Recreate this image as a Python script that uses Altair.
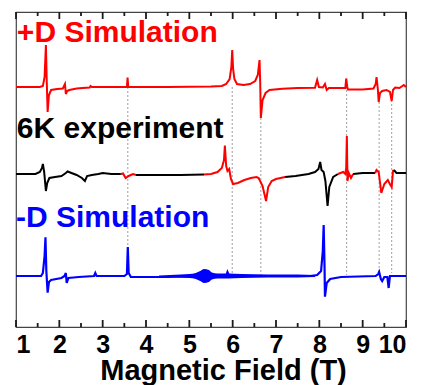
import altair as alt
import pandas as pd

# ---- data (x in Tesla, signal in arbitrary units) ----
red_field = [1.0, 1.55, 1.62, 1.66, 1.69, 1.71, 1.73, 1.76, 1.81, 1.95, 2.08, 2.13, 2.15, 2.18, 2.23,
             2.40, 2.54, 2.70, 2.72, 2.75, 3.0, 3.56, 3.575, 3.59, 3.62, 4.5, 5.5, 5.75, 5.85, 5.93,
             5.97, 5.99, 6.01, 6.04, 6.10, 6.25, 6.40, 6.52, 6.58, 6.62, 6.635, 6.65, 6.69, 6.76,
             6.85, 7.15, 7.5, 7.9, 7.95, 7.99, 8.08, 8.13, 8.17, 8.22, 8.5, 8.60, 8.62, 8.645, 8.66,
             9.0, 9.25, 9.30, 9.32, 9.35, 9.37, 9.40, 9.45, 9.55, 9.63, 9.67, 9.70, 9.75, 9.85, 9.95, 10.0]
red_signal = [0, 0, 1, 10, 42, 5, -25, -8, -3, -2, -1.5, 3, -7, -4, -3,
              -1.5, -1, -0.5, 1, 0, 0, 0, 9.5, 0, 0, 0, 0.5, 1, 3, 8,
              20, 37, 18, 8, 3, 2, 3, 6, 12, 27, 5, -31, -13, -6,
              -3, -1.7, -1, -0.7, 7, 0, -0.5, 3, -3, -1, -1, -1, 8.5, 0, -2.5,
              -2.5, -1.5, 3, 10, -2, -15, -6, -4, -3, -5, -14, -3, -0.5, -1, 2, 0]

exp_field = [1.0, 1.45, 1.55, 1.60, 1.62, 1.65, 1.69, 1.72, 1.77, 1.90, 2.05, 2.15, 2.19, 2.28, 2.40,
             2.52, 2.59, 2.64, 2.75, 2.90, 3.00, 3.20, 3.42, 3.47, 3.53, 3.60, 3.70, 3.77, 4.2, 4.8,
             5.34, 5.50, 5.65, 5.75, 5.80, 5.82, 5.85, 5.88, 5.92, 5.96, 6.01, 6.12, 6.27, 6.42,
             6.55, 6.60, 6.69, 6.77, 6.82, 6.90, 7.00, 7.21, 7.45, 7.75, 7.90, 7.98, 8.02, 8.05,
             8.10, 8.14, 8.19, 8.23, 8.32, 8.43, 8.55, 8.60, 8.62, 8.635, 8.65, 8.68, 8.73, 8.78,
             9.0, 9.25, 9.29, 9.32, 9.37, 9.43, 9.50, 9.58, 9.64, 9.67, 9.70, 9.72, 9.78, 10.0]
exp_signal = [0, 0, 2, 6, 10, 2, -17, -9, -4, -3, -2, 1, 2.5, 1, -1,
              -4, -7, -2, -1, 0, 1, 0, 0, 0.5, -4, -2, 0, -1, -1, -1,
              -0.5, 0, 2, 6, 14, 28.5, 8, 3, 5, -5, -10, -9, -6, -4,
              -3, -4, -12, -27, -13, -7, -5, -3, -2, 0, 2, 5, 12, 4,
              2, -7, -32, -13, -3, 0, 2, 0, 6, 38, -7, 1, -4, 0,
              1, 1, 1, 4, 2, -19, -10, -6, -11, -13, 3, 4, 1, 1]
# field ranges where the experiment trace is drawn in red (start exclusive, end inclusive)
exp_red_start = [3.42, 5.34, 8.43, 9.29]
exp_red_end = [3.77, 7.21, 8.78, 9.72]

blue_field = [1.0, 1.58, 1.62, 1.66, 1.68, 1.70, 1.73, 1.76, 1.81, 2.05, 2.12, 2.15, 2.17, 2.21, 2.45,
              2.80, 2.83, 2.86, 3.50, 3.56, 3.58, 3.60, 3.65, 4.5, 5.0, 5.85, 5.88, 5.92, 7.8, 7.95,
              8.04, 8.08, 8.10, 8.12, 8.13, 8.17, 8.25, 8.5, 9.30, 9.36, 9.38, 9.42, 9.45, 9.50,
              9.57, 9.60, 9.63, 10.0]
blue_signal = [0, 0, 3, 20, 38.7, 5, -16.7, -6, -4, -2, 0, 3, -7, -2, -1,
               0, 3, 0, 0, 2, 29, 3, -1, -1, -0.5, 0, 4, 0, 0, 1,
               5, 25, 51, 10, -20.7, -7, -3, -1, 0, 2, 4, -3, -5, -1,
               -1, -12, 0, 0]

# noise envelope of the -D simulation around 5.3 T (half width)
blob_field = [4.3, 4.8, 5.0, 5.15, 5.25, 5.34, 5.45, 5.52, 5.65, 5.9, 6.2, 6.8, 7.5, 7.9]
blob_half = [0.5, 1.5, 2, 3, 5, 7, 6, 3.5, 2.5, 2.5, 2, 1.5, 1.5, 1]

# trace offsets (vertical stacking)
offset_plus, offset_exp, offset_minus = 240, 153, 51

# dashed guide lines
guide_field = [3.58, 5.99, 6.65, 8.63, 9.38, 9.67]
guide_top = [240, 240, 209, 237, 225, 227]
guide_bottom = [80, 52, 52, 52, 54, 54]

label_text = ["+D Simulation", "6K experiment", "-D Simulation"]
label_field = [1.02, 1.02, 1.0]
label_y = [285, 189, 100]
label_color = ["#ff0000", "#000000", "#0000ff"]

major_ticks = list(range(1, 11))
minor_ticks = [1.5, 2.5, 3.5, 4.5, 5.5, 6.5, 7.5, 8.5, 9.5]

FONT = "Liberation Sans"
W, H = 390, 315
Y_MAX = 315
MAJOR_LEN, MINOR_LEN = 7, 4
tick_color = "#1a1a1a"

# ---- tables ----
red_df = pd.DataFrame({"x": red_field, "y": [offset_plus + v for v in red_signal]})
blue_df = pd.DataFrame({"x": blue_field, "y": [offset_minus + v for v in blue_signal]})
blob_df = pd.DataFrame({"x": blob_field,
                        "lo": [offset_minus - h for h in blob_half],
                        "hi": [offset_minus + h for h in blob_half]})


def is_red(x):
    return any(lo < x <= hi for lo, hi in zip(exp_red_start, exp_red_end))


rows = []
seg = 0
prev = None
for x, v in zip(exp_field, exp_signal):
    c = "red" if is_red(x) else "black"
    if prev is not None and c != prev[2]:
        seg += 1
        rows.append({"x": prev[0], "y": prev[1], "c": c, "seg": seg})
    rows.append({"x": x, "y": offset_exp + v, "c": c, "seg": seg})
    prev = (x, offset_exp + v, c)
exp_df = pd.DataFrame(rows)

guide_df = pd.DataFrame({"x": guide_field, "top": guide_top, "bottom": guide_bottom})
label_df = pd.DataFrame({"t": label_text, "x": label_field, "y": label_y, "c": label_color})

tick_rows = []
for t in major_ticks:
    tick_rows.append({"x": float(t), "a": 0.0, "b": float(MAJOR_LEN)})
    tick_rows.append({"x": float(t), "a": float(Y_MAX - MAJOR_LEN), "b": float(Y_MAX)})
for t in minor_ticks:
    tick_rows.append({"x": float(t), "a": 0.0, "b": float(MINOR_LEN)})
    tick_rows.append({"x": float(t), "a": float(Y_MAX - MINOR_LEN), "b": float(Y_MAX)})
tick_df = pd.DataFrame(tick_rows)

xscale = alt.Scale(domain=[1, 10], nice=False, zero=False)
yscale = alt.Scale(domain=[0, Y_MAX], nice=False, zero=False)
noy = alt.Y("y:Q", scale=yscale, axis=None)

axis_labels = alt.Axis(values=major_ticks, ticks=False, domain=False, grid=False,
                       labelFont=FONT, labelFontSize=25, labelFontWeight="bold", labelColor="#000",
                       labelPadding=5, format="d",
                       title="Magnetic Field (T)", titleFont=FONT, titleFontSize=29,
                       titleFontWeight="bold", titleColor="#000", titlePadding=-1, titleX=207)
X = alt.X("x:Q", scale=xscale, axis=axis_labels)

ticks = alt.Chart(tick_df).mark_rule(color=tick_color, strokeWidth=1.8).encode(
    x=X,
    y=alt.Y("a:Q", scale=yscale, axis=None),
    y2="b:Q",
)

guides = alt.Chart(guide_df).mark_rule(color="#888888", strokeDash=[2, 2], strokeWidth=0.8).encode(
    x=X,
    y=alt.Y("top:Q", scale=yscale, axis=None),
    y2="bottom:Q",
)

blob = alt.Chart(blob_df).mark_area(color="#0000ff", interpolate="monotone").encode(
    x=X,
    y=alt.Y("lo:Q", scale=yscale, axis=None),
    y2="hi:Q",
)

red_line = alt.Chart(red_df).mark_line(color="#ff0000", strokeWidth=2).encode(x=X, y=noy)

exp_line = alt.Chart(exp_df).mark_line(strokeWidth=2).encode(
    x=X,
    y=noy,
    color=alt.Color("c:N", scale=alt.Scale(domain=["black", "red"], range=["#000000", "#ff0000"]),
                    legend=None),
    detail="seg:N",
)

blue_line = alt.Chart(blue_df).mark_line(color="#0000ff", strokeWidth=2.2).encode(x=X, y=noy)

labels = alt.Chart(label_df).mark_text(align="left", baseline="alphabetic", font=FONT,
                                       fontSize=30, fontWeight="bold").encode(
    x=X,
    y=alt.Y("y:Q", scale=yscale, axis=None),
    text="t:N",
    color=alt.Color("c:N", scale=None, legend=None),
)

chart = alt.layer(ticks, guides, blob, red_line, exp_line, blue_line, labels).properties(
    width=W, height=H,
    padding={"left": 16, "top": 12, "right": 16, "bottom": 58},
    autosize=alt.AutoSizeParams(type="none"),
    background="white",
).configure_view(stroke="#444444", strokeWidth=1.2)

chart.save("out.html", embed_options={"renderer": "svg", "actions": False})
